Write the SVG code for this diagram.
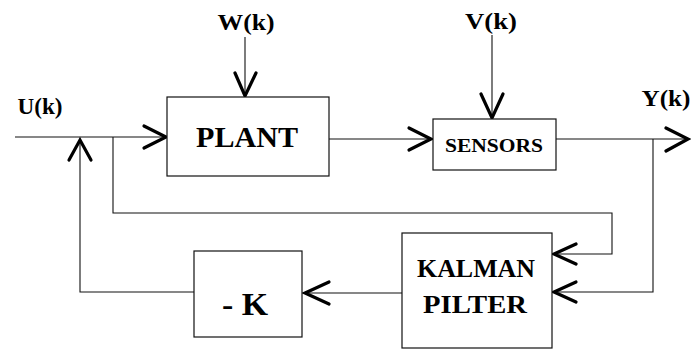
<svg xmlns="http://www.w3.org/2000/svg" width="691" height="351" viewBox="0 0 691 351">
<style>
.box{fill:#fff;stroke:#111;stroke-width:1.2}
.ln{fill:none;stroke:#111;stroke-width:1.1}
.ah{fill:none;stroke:#000;stroke-width:3.2;stroke-linecap:round;stroke-linejoin:miter}
text{font-family:"Liberation Serif","Times New Roman",serif;font-weight:bold;fill:#000;text-anchor:middle}
.lab{font-size:23px}
</style>
<rect width="691" height="351" fill="#fff"/>
<g id="connectors">
<path class="ln" d="M15,137 H167"/>
<path class="ln" d="M80,140 V292 H194"/>
<path class="ln" d="M113,137 V213 H612 V254 H553"/>
<path class="ln" d="M329,139 H433"/>
<path class="ln" d="M556,139 H689"/>
<path class="ln" d="M653,139 V292 H553"/>
<path class="ln" d="M402,293 H303"/>
<path class="ln" d="M245,37 V97"/>
<path class="ln" d="M492,35 V119"/>
<polyline class="ah" points="144,126 166,137 144,148"/>
<polyline class="ah" points="69,160 80,140 91,160"/>
<polyline class="ah" points="409,128 431,139 409,150"/>
<polyline class="ah" points="666,128 688,139 666,151"/>
<polyline class="ah" points="576,244 554,254 576,264"/>
<polyline class="ah" points="576,282 554,292 576,302"/>
<polyline class="ah" points="329,282 305,293 329,304"/>
<polyline class="ah" points="235,73 245,96 256,73"/>
<polyline class="ah" points="481,94 492,118 503,94"/>
</g>
<g id="plant">
<rect class="box" x="167" y="97" width="162" height="79"/>
<text x="247" y="147" font-size="30" textLength="102" lengthAdjust="spacingAndGlyphs">PLANT</text>
</g>
<g id="sensors">
<rect class="box" x="433" y="119" width="123" height="51"/>
<text x="494" y="152" font-size="19" textLength="98" lengthAdjust="spacingAndGlyphs">SENSORS</text>
</g>
<g id="kalman">
<rect class="box" x="402" y="233" width="150" height="115"/>
<text x="476" y="277" font-size="25" textLength="118" lengthAdjust="spacingAndGlyphs">KALMAN</text>
<text x="475" y="313" font-size="25" textLength="104" lengthAdjust="spacingAndGlyphs">PILTER</text>
</g>
<g id="gain">
<rect class="box" x="194" y="251" width="108" height="86"/>
<text x="245" y="315" font-size="31" textLength="46" lengthAdjust="spacingAndGlyphs">- K</text>
</g>
<g id="labels">
<text class="lab" x="246" y="30" textLength="57" lengthAdjust="spacingAndGlyphs">W(k)</text>
<text class="lab" x="491" y="29" textLength="52" lengthAdjust="spacingAndGlyphs">V(k)</text>
<text class="lab" x="40" y="114" textLength="45" lengthAdjust="spacingAndGlyphs">U(k)</text>
<text class="lab" x="666" y="106" textLength="49" lengthAdjust="spacingAndGlyphs">Y(k)</text>
</g>
</svg>
